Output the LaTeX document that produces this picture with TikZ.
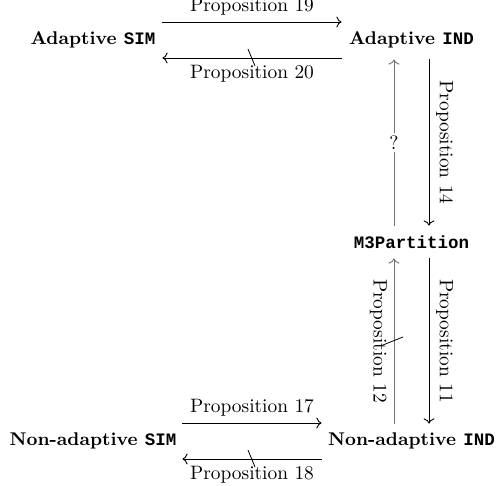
\documentclass[tikz,border=0pt]{standalone}
\usepackage{fontspec}
\setmonofont{Liberation Mono}[Scale=0.95]
\usetikzlibrary{arrows.meta}
\begin{document}
\begin{tikzpicture}[x=0.5pt,y=-0.5pt,
  obj/.style={font=\fontsize{9.2}{11}\selectfont\bfseries, inner sep=0pt, align=center},
  lbl/.style={font=\fontsize{9.7}{11.5}\selectfont},
  arr/.style={draw=black, line width=0.45pt, -{Computer Modern Rightarrow}},
  garr/.style={arr, draw=black!55},
  vlbl/.style={lbl, rotate=-90, inner sep=3.3pt},
  slash/.style={draw=black, line width=0.4pt}]
\useasboundingbox (0,0) rectangle (500,486);

\node[obj, minimum width=69pt, minimum height=19pt] (asim) at (93,40) {Adaptive \texttt{SIM}};
\node[obj, minimum width=69.5pt, minimum height=19pt] (aind) at (411.5,40) {Adaptive \texttt{IND}};
\node[obj, minimum width=69pt, minimum height=16pt] (m3) at (411.5,242) {\texttt{M3Partition}};
\node[obj, minimum width=89pt, minimum height=17pt] (nsim) at (93,441) {Non-adaptive \texttt{SIM}};
\node[obj, minimum width=89.5pt, minimum height=17pt] (nind) at (411.5,441) {Non-adaptive \texttt{IND}};

% top horizontal
\draw[arr] ([yshift=9pt]asim.east) -- node[lbl, above]{Proposition 19} ([yshift=9pt]aind.west);
\draw[arr] ([yshift=-9pt]aind.west) -- coordinate[pos=0.5] (s1) node[lbl, below]{Proposition 20} ([yshift=-9pt]asim.east);
\draw[slash] (s1) ++(-4,-9) -- ++(7,17);

% upper vertical
\draw[arr] ([xshift=8.75pt]aind.south) -- node[vlbl, anchor=south]{Proposition 14} ([xshift=8.75pt]m3.north);
\draw[garr] ([xshift=-8.75pt]m3.north) -- node[lbl, fill=white, inner sep=1.5pt, text=black]{?} ([xshift=-8.75pt]aind.south);

% lower vertical
\draw[arr] ([xshift=8.75pt]m3.south) -- node[vlbl, anchor=south]{Proposition 11} ([xshift=8.75pt]nind.north);
\draw[garr] ([xshift=-8.75pt]nind.north) -- coordinate[pos=0.5] (s3) node[vlbl, anchor=north]{Proposition 12} ([xshift=-8.75pt]m3.south);
\draw[slash] (s3) ++(-11,4) -- ++(20,-8);

% bottom horizontal
\draw[arr] ([yshift=9pt]nsim.east) -- node[lbl, above]{Proposition 17} ([yshift=9pt]nind.west);
\draw[arr] ([yshift=-9pt]nind.west) -- coordinate[pos=0.5] (s2) node[lbl, below]{Proposition 18} ([yshift=-9pt]nsim.east);
\draw[slash] (s2) ++(-4,-9) -- ++(7,17);
\end{tikzpicture}
\end{document}
